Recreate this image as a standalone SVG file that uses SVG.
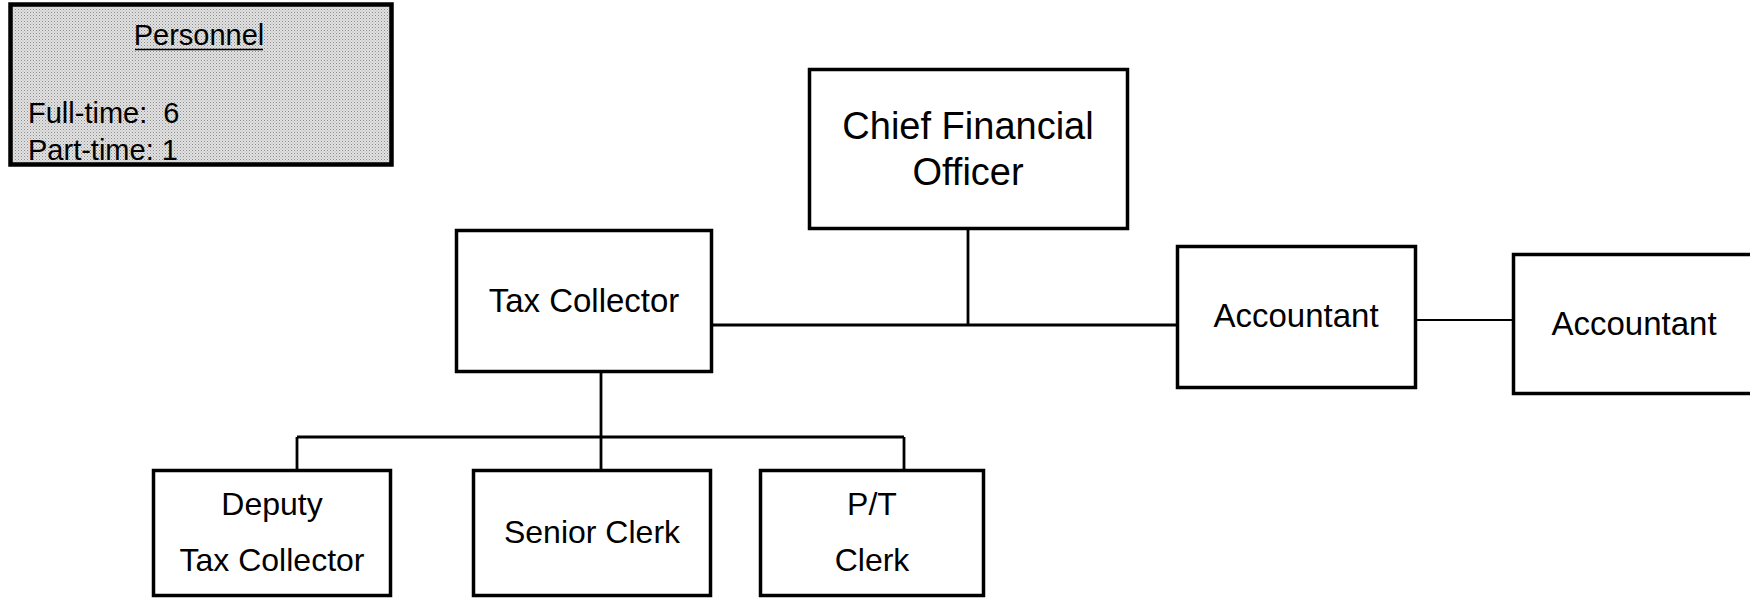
<svg xmlns="http://www.w3.org/2000/svg" width="1750" height="598" viewBox="0 0 1750 598">
<style>
.box{fill:#ffffff;stroke:#000000;stroke-width:3.5}
.conn{stroke:#000000;stroke-width:2.8;fill:none}
.thin{stroke:#000000;stroke-width:1.8;fill:none}
text{font-family:"Liberation Sans",Arial,sans-serif;fill:#000000;text-anchor:middle}
.t33{font-size:33px}
.t32{font-size:32px}
.t38{font-size:38px}
.t29{font-size:29px}
</style>
<defs>
<pattern id="dots" width="3" height="3" patternUnits="userSpaceOnUse">
<rect width="3" height="3" fill="#e2e2e2"/>
<rect width="1" height="1" fill="#8c8c8c"/>
<rect x="1.5" y="1.5" width="1" height="1" fill="#a8a8a8"/>
</pattern>
</defs>
<rect width="1750" height="598" fill="#ffffff"/>
<g id="connectors">
<line class="conn" x1="968" y1="229" x2="968" y2="325"/>
<line class="conn" x1="712" y1="325" x2="1176" y2="325"/>
<line class="thin" x1="1417" y1="320" x2="1512" y2="320"/>
<line class="conn" x1="601" y1="373" x2="601" y2="469"/>
<line class="conn" x1="297" y1="437" x2="904" y2="437"/>
<line class="conn" x1="297" y1="437" x2="297" y2="469"/>
<line class="conn" x1="904" y1="437" x2="904" y2="469"/>
</g>
<g id="personnel">
<rect x="10.5" y="4.5" width="381" height="160" fill="url(#dots)" stroke="#000000" stroke-width="4.5"/>
<text class="t29" x="199" y="45">Personnel</text>
<line x1="135" y1="49.5" x2="263" y2="49.5" stroke="#000000" stroke-width="1.6"/>
<text class="t29" x="28" y="123" style="text-anchor:start" xml:space="preserve">Full-time:  6</text>
<text class="t29" x="28" y="160" style="text-anchor:start">Part-time: 1</text>
</g>
<g id="cfo">
<rect class="box" x="809.5" y="69.5" width="318" height="159"/>
<text class="t38" x="968" y="139">Chief Financial</text>
<text class="t38" x="968" y="185">Officer</text>
</g>
<g id="tax-collector">
<rect class="box" x="456.5" y="230.5" width="255" height="141"/>
<text class="t33" x="584" y="312">Tax Collector</text>
</g>
<g id="accountant-1">
<rect class="box" x="1177.5" y="246.5" width="238" height="141"/>
<text class="t33" x="1296" y="327">Accountant</text>
</g>
<g id="accountant-2">
<rect class="box" x="1513.5" y="254.5" width="260" height="139"/>
<text class="t33" x="1634" y="335">Accountant</text>
</g>
<g id="deputy">
<rect class="box" x="153.5" y="470.5" width="237" height="125"/>
<text class="t32" x="272" y="515">Deputy</text>
<text class="t32" x="272" y="571">Tax Collector</text>
</g>
<g id="senior-clerk">
<rect class="box" x="473.5" y="470.5" width="237" height="125"/>
<text class="t32" x="592" y="543">Senior Clerk</text>
</g>
<g id="pt-clerk">
<rect class="box" x="760.5" y="470.5" width="223" height="125"/>
<text class="t32" x="872" y="515">P/T</text>
<text class="t32" x="872" y="571">Clerk</text>
</g>
</svg>
